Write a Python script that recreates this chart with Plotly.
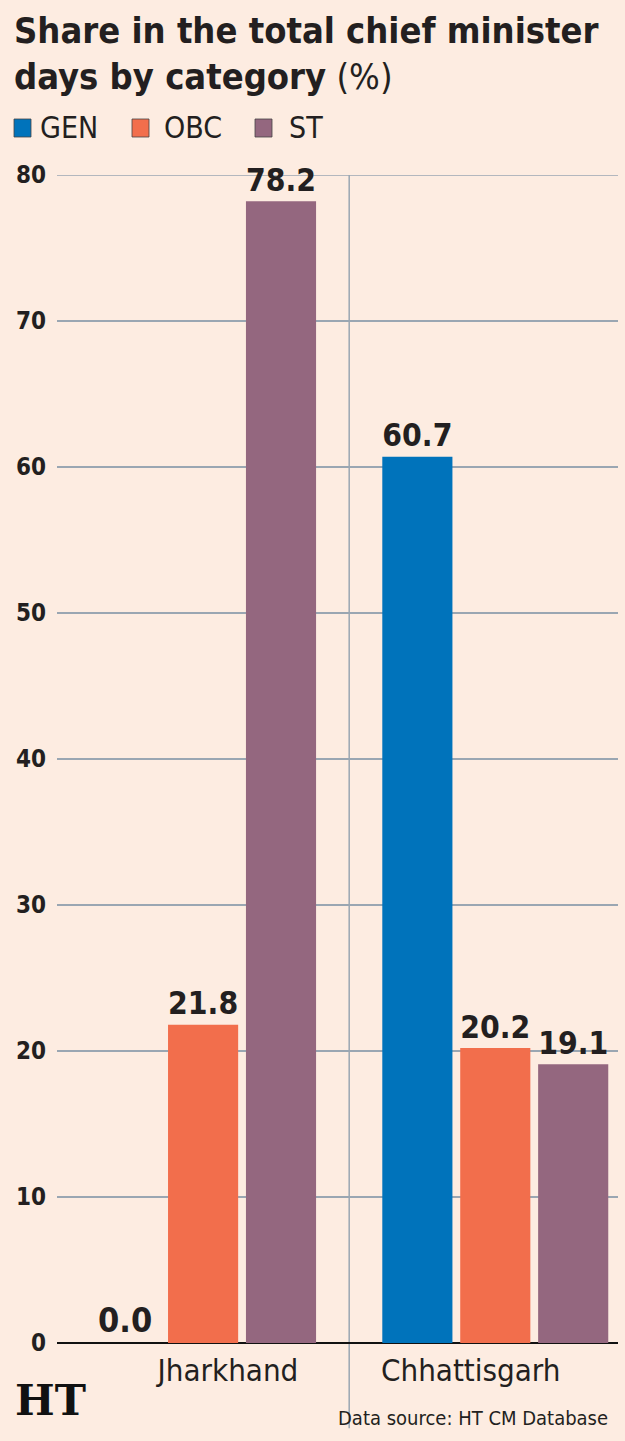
import plotly.graph_objects as go

states = ["Jharkhand", "Chhattisgarh"]
series_names = ["GEN", "OBC", "ST"]
gen_vals = [0.0, 60.7]
obc_vals = [21.8, 20.2]
st_vals = [78.2, 19.1]
y_ticks = [0, 10, 20, 30, 40, 50, 60, 70, 80]

colors = {"GEN": "#0073bb", "OBC": "#f26e4c", "ST": "#94677f"}
BG = "#fdece1"
TXT = "#231f20"
GRID = "#9aa6b2"
FONT = "DejaVu Sans Condensed, Liberation Sans Narrow, sans-serif"

W, H = 625, 1441
L, R, T, B = 57, 7, 175, 98
pw, ph = W - L - R, H - T - B

def px(X):
    return (X - L) / pw

def py(Y):
    return (H - B - Y) / ph

fig = go.Figure()
for name, vals in zip(series_names, [gen_vals, obc_vals, st_vals]):
    fig.add_trace(go.Bar(
        x=[0, 1], y=vals, name=name,
        marker=dict(color=colors[name], line=dict(width=0)),
        text=[f"{v:.1f}" for v in vals], textposition="outside",
        textfont=dict(family=FONT, size=34, color=TXT, weight="bold"),
        cliponaxis=False, showlegend=False,
    ))

shapes = [
    dict(type="line", xref="x", yref="paper", x0=0.5, x1=0.5, y0=-0.073, y1=1,
         line=dict(color=GRID, width=1.5), layer="below"),
    dict(type="line", xref="paper", yref="y", x0=0, x1=1, y0=80, y1=80,
         line=dict(color=GRID, width=1.5), layer="below"),
]
annotations = [
    dict(text="<b>Share in the total chief minister</b>", x=px(12), y=py(53), xref="paper", yref="paper",
         xanchor="left", yanchor="bottom", showarrow=False, font=dict(family=FONT, size=36, color=TXT)),
    dict(text="<b>days by category</b> (%)", x=px(12), y=py(99), xref="paper", yref="paper",
         xanchor="left", yanchor="bottom", showarrow=False, font=dict(family=FONT, size=36, color=TXT)),
    dict(text="Data source: HT CM Database", x=px(610), y=py(1432), xref="paper", yref="paper",
         xanchor="right", yanchor="bottom", showarrow=False, font=dict(family=FONT, size=20, color=TXT)),
    dict(text="<b>HT</b>", x=px(13), y=py(1427), xref="paper", yref="paper",
         xanchor="left", yanchor="bottom", showarrow=False,
         font=dict(family="DejaVu Serif, serif", size=42, color="#111111")),
]
leg_pos = [(14, 38), (132, 162), (255, 287)]
for name, (sx, tx) in zip(series_names, leg_pos):
    shapes.append(dict(type="rect", xref="paper", yref="paper", x0=px(sx), x1=px(sx + 17),
                       y0=py(137), y1=py(119), fillcolor=colors[name], line=dict(width=0.8, color="#444444")))
    annotations.append(dict(text=name, x=px(tx), y=py(127), xref="paper", yref="paper",
                            xanchor="left", yanchor="middle", showarrow=False,
                            font=dict(family=FONT, size=30, color=TXT)))

fig.update_layout(
    width=W, height=H,
    margin=dict(l=L, r=R, t=T, b=B, pad=0),
    paper_bgcolor=BG, plot_bgcolor=BG,
    barmode="group", bargap=0.2, bargroupgap=0.1,
    shapes=shapes, annotations=annotations,
    xaxis=dict(range=[-0.5, 1.42], tickvals=[0.085, 0.916], ticktext=states, showgrid=False,
               showline=False, zeroline=False, ticks="", ticklen=0, ticklabelstandoff=6,
               tickfont=dict(family=FONT, size=31, color=TXT)),
    yaxis=dict(range=[0, 80], tickvals=y_ticks, showgrid=True, gridcolor=GRID, gridwidth=1.5,
               zeroline=True, zerolinecolor="#111111", zerolinewidth=2,
               ticks="", ticklabelstandoff=10,
               tickfont=dict(family=FONT, size=24, color=TXT, weight="bold")),
)
fig.write_html("out.html")
